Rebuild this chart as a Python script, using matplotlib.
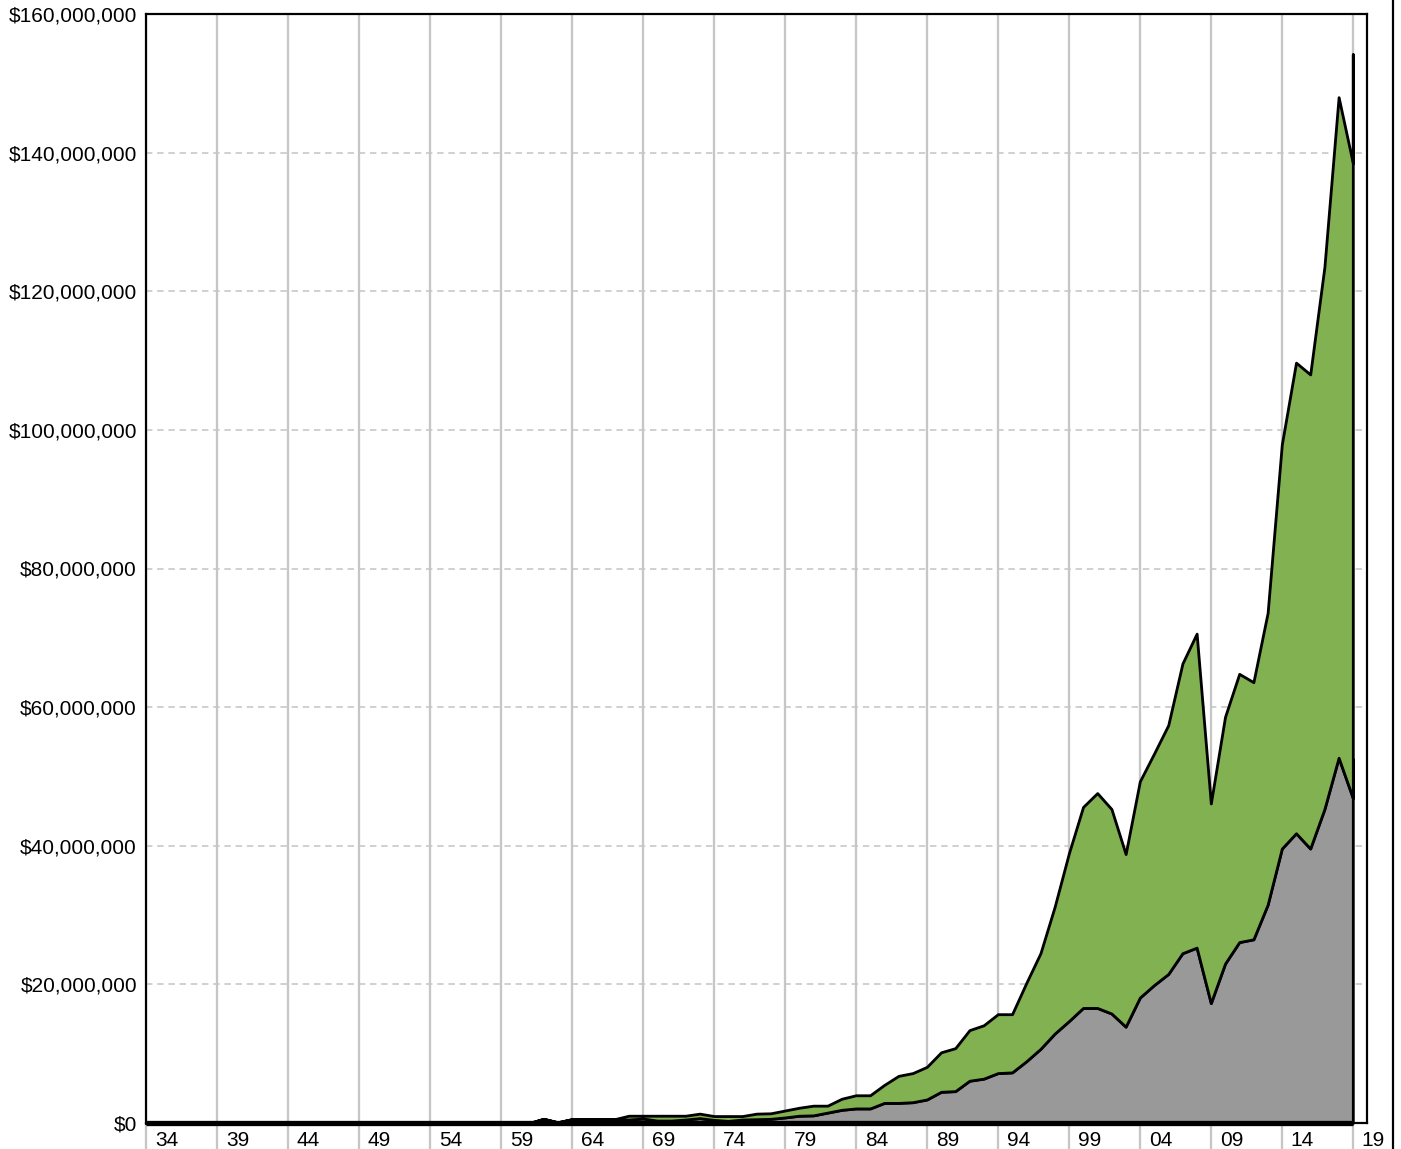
import matplotlib
matplotlib.use("Agg")
import matplotlib.pyplot as plt
import matplotlib.transforms as mtransforms
from matplotlib.ticker import FuncFormatter
from matplotlib.lines import Line2D

# ---------------- data (millions of dollars) ----------------
years = list(range(1934, 2020)) + [2019]

gray_top = [0.0] * 27 + [
    0.0, 0.6, 0.1, 0.55, 0.55, 0.55, 0.5, 0.5, 0.65, 0.35,      # 1961-1970
    0.35, 0.5, 0.7, 0.45, 0.3, 0.5, 0.55, 0.6, 0.8, 1.05,       # 1971-1980
    1.1, 1.5, 1.9, 2.1, 2.1, 2.9, 2.9, 3.0, 3.4, 4.5,           # 1981-1990
    4.6, 6.1, 6.4, 7.2, 7.3, 8.9, 10.7, 12.9, 14.7, 16.6,       # 1991-2000
    16.6, 15.8, 13.9, 18.1, 19.9, 21.5, 24.5, 25.3, 17.3, 23.0, # 2001-2010
    26.1, 26.5, 31.5, 39.6, 41.8, 39.6, 45.3, 52.7, 46.9,       # 2011-2019
    52.5,                                                       # 2019 (latest)
]

total_top = [0.0] * 27 + [
    0.0, 0.6, 0.1, 0.55, 0.55, 0.55, 0.55, 1.05, 1.05, 1.05,    # 1961-1970
    1.05, 1.05, 1.35, 1.0, 1.0, 1.0, 1.35, 1.4, 1.8, 2.2,       # 1971-1980
    2.5, 2.5, 3.5, 4.0, 4.0, 5.5, 6.8, 7.2, 8.1, 10.2,          # 1981-1990
    10.8, 13.4, 14.1, 15.7, 15.7, 20.2, 24.5, 31.2, 38.9, 45.6, # 1991-2000
    47.6, 45.3, 38.8, 49.3, 53.3, 57.4, 66.3, 70.6, 46.1, 58.6, # 2001-2010
    64.8, 63.6, 73.6, 97.9, 109.7, 108.0, 123.5, 148.0, 138.5,  # 2011-2019
    154.2,                                                      # 2019 (latest)
]

x_ticks = list(range(1934, 2020, 5))
y_ticks = [0, 20e6, 40e6, 60e6, 80e6, 100e6, 120e6, 140e6, 160e6]

GREEN = "#82b152"
GRAY = "#999999"
GRID = "#c6c6c6"

# ---------------- figure ----------------
W, H, DPI = 1401, 1149, 100
fig = plt.figure(figsize=(W / DPI, H / DPI), dpi=DPI)
plt.rcParams["font.family"] = ["Liberation Sans", "DejaVu Sans"]

L, R, T, B = 146, 1367, 14, 1123
ax = fig.add_axes([L / W, (H - B) / H, (R - L) / W, (B - T) / H])

px = 72.0 / DPI  # points per pixel

g = [v * 1e6 for v in gray_top]
t = [v * 1e6 for v in total_top]

ax.fill_between(years, 0, g, facecolor=GRAY, edgecolor="black",
                linewidth=2.8 * px, zorder=3, clip_on=False)
ax.fill_between(years, g, t, facecolor=GREEN, edgecolor="black",
                linewidth=2.8 * px, zorder=3, clip_on=False)
ax.hlines(0, years[0], years[-1], colors="black", linewidth=5.3 * px,
          zorder=4, clip_on=False)

ax.set_xlim(1934, 2020)
ax.set_ylim(0, 160e6)

ax.set_xticks(x_ticks)
ax.set_xticklabels([f"{y % 100:02d}" for y in x_ticks])
ax.set_yticks(y_ticks)
ax.yaxis.set_major_formatter(FuncFormatter(lambda v, p: "${:,.0f}".format(v)))

# grid
ax.xaxis.grid(True, color=GRID, linewidth=2.3 * px, linestyle="-", zorder=0)
ax.yaxis.grid(True, color=GRID, linewidth=1.6 * px, linestyle=(0, (4, 3)), zorder=0)
ax.set_axisbelow(True)

# ticks
FS = 15
ax.tick_params(axis="x", direction="out", length=26 * px, width=2.3 * px,
               color=GRID, pad=-18 * px, labelsize=FS, labelcolor="black")
ax.tick_params(axis="y", length=0, pad=9 * px, labelsize=FS, labelcolor="black")
offset = mtransforms.ScaledTranslation(9 / DPI, 0, fig.dpi_scale_trans)
for lab in ax.get_xticklabels():
    lab.set_horizontalalignment("left")
    lab.set_transform(lab.get_transform() + offset)

for s in ax.spines.values():
    s.set_color("black")
    s.set_linewidth(2.2 * px)
    s.set_zorder(5)

# outer right border line of the frame
fig.add_artist(Line2D([1393 / W, 1393 / W], [0, 1], color="black",
                      linewidth=2.2 * px, transform=fig.transFigure))

fig.savefig("out.png", dpi=DPI)
